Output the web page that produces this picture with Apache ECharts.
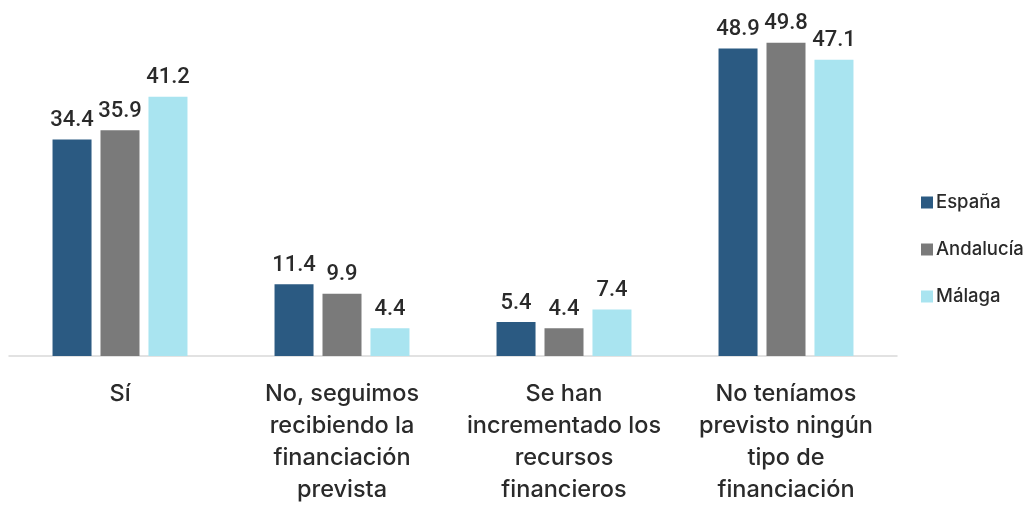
<!DOCTYPE html>
<html>
<head>
<meta charset="utf-8">
<script src="https://cdn.jsdelivr.net/npm/echarts@6/dist/echarts.min.js"></script>
<style>
  html, body { margin: 0; padding: 0; background: #fff; }
  #chart { width: 1034px; height: 506px; }
</style>
</head>
<body>
<div id="chart"></div>
<script>
  // categorías del eje x
  const categories = [
    'Sí',
    'No, seguimos\nrecibiendo la\nfinanciación\nprevista',
    'Se han\nincrementado los\nrecursos\nfinancieros',
    'No teníamos\nprevisto ningún\ntipo de\nfinanciación'
  ];
  const seriesNames = ['España', 'Andalucía', 'Málaga'];
  const espana = [34.4, 11.4, 5.4, 48.9];
  const andalucia = [35.9, 9.9, 4.4, 49.8];
  const malaga = [41.2, 4.4, 7.4, 47.1];

  const colors = ['#2B5A82', '#7A7A7A', '#A9E4F0'];
  const numFont = 'Roboto, "Liberation Sans", sans-serif';
  const textFont = 'Inter, "Noto Sans", sans-serif';

  let myChart = echarts.init(document.getElementById('chart'));

  function barSeries(name, data) {
    return {
      name: name,
      type: 'bar',
      data: data,
      barWidth: 39,
      barGap: '23%',
      label: {
        show: true,
        position: 'top',
        distance: 8,
        color: '#2a2a2a',
        fontFamily: numFont,
        fontWeight: 500,
        fontSize: 22,
        formatter: p => p.value.toFixed(1)
      }
    };
  }

  myChart.setOption({
    color: colors,
    animation: false,
    grid: {
      left: 9,
      right: 137,
      top: 41.5,
      bottom: 149
    },
    legend: {
      orient: 'vertical',
      left: 916,
      top: 188,
      itemWidth: 12,
      itemHeight: 12,
      itemGap: 28,
      icon: 'rect',
      data: seriesNames,
      textStyle: {
        color: '#2a2a2a',
        fontFamily: textFont,
        fontWeight: 500,
        fontSize: 18.5,
        padding: [0, 0, 0, -2]
      }
    },
    xAxis: {
      type: 'category',
      data: categories,
      axisTick: { show: false },
      axisLine: { lineStyle: { color: '#D9D9D9', width: 1.5 } },
      axisLabel: {
        interval: 0,
        margin: 22,
        color: '#2a2a2a',
        fontFamily: textFont,
        fontWeight: 500,
        fontSize: 23.5,
        lineHeight: 32
      }
    },
    yAxis: {
      type: 'value',
      min: 0,
      max: 50,
      show: false,
      splitLine: { show: false }
    },
    series: [
      barSeries(seriesNames[0], espana),
      barSeries(seriesNames[1], andalucia),
      barSeries(seriesNames[2], malaga)
    ]
  });
</script>
</body>
</html>
